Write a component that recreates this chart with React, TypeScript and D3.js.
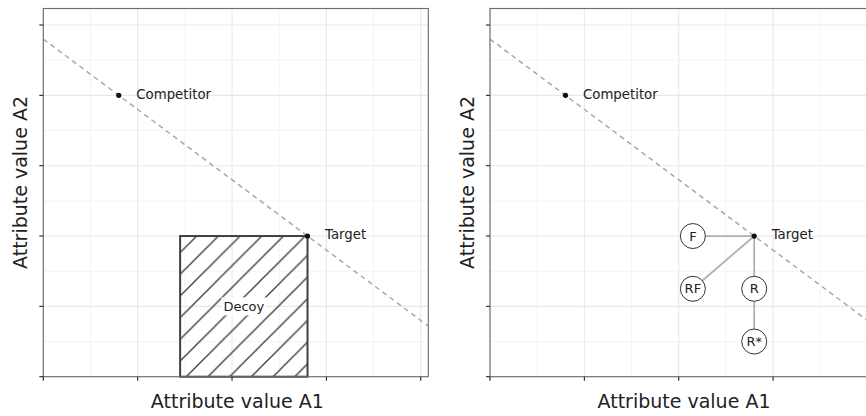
import React from "react";
import * as d3 from "d3";

const xTicks = [0, 1, 2, 3, 4];
const yTicks = [0, 1, 2, 3, 4, 5];
const xMinor = [0.5, 1.5, 2.5, 3.5];
const yMinor = [0.5, 1.5, 2.5, 3.5, 4.5];
const pointNames = ["Competitor", "Target"];
const pointX = [0.8, 2.8];
const pointY = [4, 2];
const lineIntercept = 4.8;
const lineSlope = -1;
const decoyBox = [1.45, 2.8, 0, 2];
const decoyLabel = "Decoy";
const decoyNames = ["F", "RF", "R", "R*"];
const decoyX = [2.15, 2.15, 2.8, 2.8];
const decoyY = [2, 1.25, 1.25, 0.5];
const decoyLinkTo = ["Target", "Target", "Target", "R"];
const xTitle = "Attribute value A1";
const yTitle = "Attribute value A2";

const W = 866;
const H = 416;
const PW = 385;
const TOP = 8.5;
const BOTTOM = 376.7;
const XMAX = 4.08;
const YMAX = 5.235;
const FONT = "DejaVu Sans, sans-serif";

function Panel({ x0, variant, id }: { x0: number; variant: "left" | "right"; id: string }) {
  const x = d3.scaleLinear().domain([0, XMAX]).range([x0, x0 + PW]);
  const y = d3.scaleLinear().domain([0, YMAX]).range([BOTTOM, TOP]);
  const lx = [0, XMAX];
  const linePath = d3.line<number>().x((d) => x(d)).y((d) => y(lineIntercept + lineSlope * d))(lx) || "";
  const tgt = { x: pointX[1], y: pointY[1] };
  const posOf = (n: string) => {
    if (n === "Target") return tgt;
    const i = decoyNames.indexOf(n);
    return { x: decoyX[i], y: decoyY[i] };
  };
  const [dx0, dx1, dy0, dy1] = decoyBox;
  return (
    <g>
      <defs>
        <clipPath id={`clip-${id}`}>
          <rect x={x0} y={TOP} width={PW} height={BOTTOM - TOP} />
        </clipPath>
        <pattern id={`hatch-${id}`} patternUnits="userSpaceOnUse" x={-1.3} y={0} width={21.7} height={21.7}>
          <line x1={0} y1={21.7} x2={21.7} y2={0} stroke="#3a3a3a" strokeWidth={1.3} />
          <line x1={-2} y1={2} x2={2} y2={-2} stroke="#3a3a3a" strokeWidth={1.3} />
          <line x1={19.7} y1={23.7} x2={23.7} y2={19.7} stroke="#3a3a3a" strokeWidth={1.3} />
        </pattern>
      </defs>
      <rect x={x0} y={TOP} width={PW} height={BOTTOM - TOP} fill="#fff" />
      {xMinor.map((t) => (
        <line key={"xm" + t} x1={x(t)} x2={x(t)} y1={TOP} y2={BOTTOM} stroke="#f4f4f4" strokeWidth={1} />
      ))}
      {yMinor.map((t) => (
        <line key={"ym" + t} x1={x0} x2={x0 + PW} y1={y(t)} y2={y(t)} stroke="#f4f4f4" strokeWidth={1} />
      ))}
      {xTicks.map((t) => (
        <line key={"xg" + t} x1={x(t)} x2={x(t)} y1={TOP} y2={BOTTOM} stroke="#e8e8e8" strokeWidth={1.1} />
      ))}
      {yTicks.map((t) => (
        <line key={"yg" + t} x1={x0} x2={x0 + PW} y1={y(t)} y2={y(t)} stroke="#e8e8e8" strokeWidth={1.1} />
      ))}
      <g clipPath={`url(#clip-${id})`}>
        <path d={linePath} fill="none" stroke="#a8a8a8" strokeWidth={1.5} strokeDasharray="5,4" />
      </g>
      {variant === "left" && (
        <g>
          <rect
            x={x(dx0)}
            y={y(dy1)}
            width={x(dx1) - x(dx0)}
            height={y(dy0) - y(dy1)}
            fill={`url(#hatch-${id})`}
            stroke="#404040"
            strokeWidth={2}
          />
          <rect x={x((dx0 + dx1) / 2) - 22.5} y={y((dy0 + dy1) / 2) - 9} width={45} height={18} fill="#fff" />
          <text
            x={x((dx0 + dx1) / 2)}
            y={y((dy0 + dy1) / 2) + 4.5}
            textAnchor="middle"
            fontFamily={FONT}
            fontSize={13}
            fill="#222"
          >
            {decoyLabel}
          </text>
        </g>
      )}
      {variant === "right" && (
        <g>
          {decoyNames.map((n, i) => {
            const to = posOf(decoyLinkTo[i]);
            return (
              <line
                key={"lk" + n}
                x1={x(decoyX[i])}
                y1={y(decoyY[i])}
                x2={x(to.x)}
                y2={y(to.y)}
                stroke="#b0b0b0"
                strokeWidth={1.8}
              />
            );
          })}
          {decoyNames.map((n, i) => (
            <g key={"c" + n}>
              <circle cx={x(decoyX[i])} cy={y(decoyY[i])} r={12.5} fill="#fff" stroke="#333" strokeWidth={1} />
              <text
                x={x(decoyX[i])}
                y={y(decoyY[i]) + 4.7}
                textAnchor="middle"
                fontFamily={FONT}
                fontSize={13}
                fill="#222"
              >
                {n}
              </text>
            </g>
          ))}
        </g>
      )}
      {pointNames.map((n, i) => (
        <g key={"p" + n}>
          <circle cx={x(pointX[i])} cy={y(pointY[i])} r={2.6} fill="#111" />
          <text
            x={x(pointX[i]) + 17.5}
            y={y(pointY[i]) + 3.3}
            fontFamily={FONT}
            fontSize={13.3}
            fill="#222"
          >
            {n}
          </text>
        </g>
      ))}
      <rect x={x0} y={TOP} width={PW} height={BOTTOM - TOP} fill="none" stroke="#6a6a6a" strokeWidth={1.1} />
      {xTicks.map((t) => (
        <line key={"xt" + t} x1={x(t)} x2={x(t)} y1={BOTTOM} y2={BOTTOM + 4} stroke="#222" strokeWidth={1.1} />
      ))}
      {yTicks.map((t) => (
        <line key={"yt" + t} x1={x0 - 4} x2={x0} y1={y(t)} y2={y(t)} stroke="#222" strokeWidth={1.1} />
      ))}
      <text x={x0 + PW / 2 + 1.5} y={408} textAnchor="middle" fontFamily={FONT} fontSize={19} fill="#222">
        {xTitle}
      </text>
      <text
        transform={`translate(${x0 - 16},${182.5}) rotate(-90)`}
        textAnchor="middle"
        fontFamily={FONT}
        fontSize={19}
        fill="#222"
      >
        {yTitle}
      </text>
    </g>
  );
}

export default function App() {
  return (
    <svg
      width={W}
      height={H}
      viewBox={`0 0 ${W} ${H}`}
      style={{ position: "absolute", left: 0, top: 0, background: "#fff" }}
    >
      <rect x={0} y={0} width={W} height={H} fill="#fff" />
      <Panel x0={43.3} variant="left" id="a" />
      <Panel x0={490} variant="right" id="b" />
    </svg>
  );
}
